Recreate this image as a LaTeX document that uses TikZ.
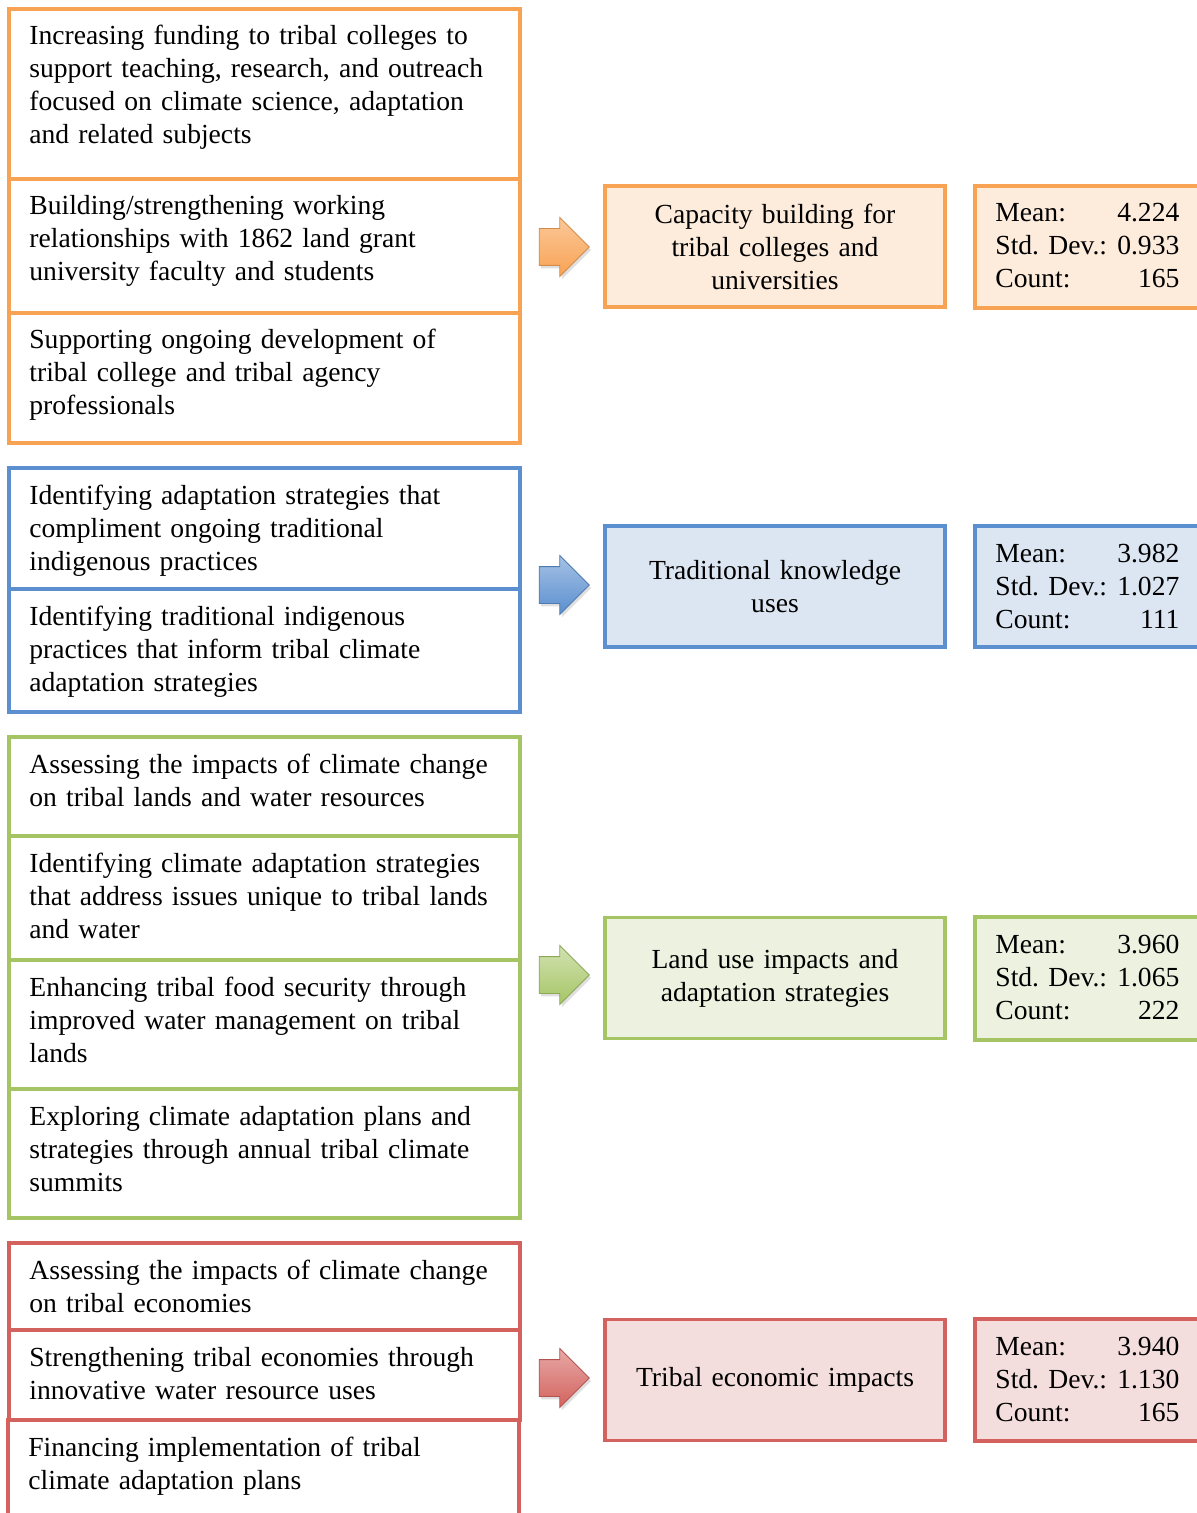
\documentclass[tikz,border=0pt]{standalone}
\usepackage{fontspec}
\setmainfont{Liberation Serif}
\usetikzlibrary{shapes.arrows}
\usetikzlibrary{shadows}
\definecolor{orline}{HTML}{F8A354}
\definecolor{orfill}{HTML}{FDEBDC}
\definecolor{blline}{HTML}{5B8FCF}
\definecolor{blfill}{HTML}{DCE6F2}
\definecolor{grline}{HTML}{A5C565}
\definecolor{grfill}{HTML}{EDF2E0}
\definecolor{rdline}{HTML}{D3625E}
\definecolor{rdfill}{HTML}{F4DEDD}
\newcommand{\txtfont}{\fontsize{13.8}{16.5}\selectfont}
\tikzset{frame/.style = {line width = 1.7pt}}
\tikzset{item/.style = {anchor = base west, inner sep = 0, text width = 250pt, align = left, font = \txtfont}}
\tikzset{topic/.style = {line width = 1.7pt, minimum width = 170pt, minimum height = 60.5pt, inner sep = 0, text width = 165pt, align = center, font = \txtfont}}
\tikzset{stats/.style = {anchor = base west, inner sep = 0, text width = 92pt, align = left, font = \txtfont}}
\tikzset{blockarrow/.style = {single arrow, inner xsep = 0, inner ysep = 9pt, minimum height = 25pt,
    single arrow head extend = 5.5pt, line width = 0.4pt,
    drop shadow = {opacity = 0.25, shadow xshift = 1pt, shadow yshift = -1.5pt}}}
\newcommand{\statline}[2]{\makebox[92pt]{#1\hfill #2}}

\begin{document}
\begin{tikzpicture}[x = 0.5pt, y = -0.5pt]
      \useasboundingbox (0, 0) rectangle (1196, 1513);
      % capacity building
      \draw [frame, orline] (9, 9) rectangle (520, 179);
      \draw [frame, orline] (9, 179) rectangle (520, 313);
      \draw [frame, orline] (9, 313) rectangle (520, 443);
      \node [item] (cap1) at (29, 45) {Increasing funding to tribal colleges to\\ support teaching, research, and outreach\\ focused on climate science, adaptation\\ and related subjects};
      \node [item] (cap2) at (29, 215) {Building/strengthening working\\ relationships with 1862 land grant\\ university faculty and students};
      \node [item] (cap3) at (29, 349) {Supporting ongoing development of\\ tribal college and tribal agency\\ professionals};
      \node [blockarrow, draw = orline!85!black, top color = orline!60!white, bottom color = orline] (caparrow) at (555, 247) {};
      \node [topic, draw = orline, fill = orfill] (capacity) at (775, 246.5) {Capacity building for\\ tribal colleges and\\ universities};
      \draw [frame, orline, fill = orfill] (975, 186) rectangle (1220, 308);
      \node [stats] (capstats) at (995, 222) {\statline{Mean:}{4.224}\\ \statline{Std.\ Dev.:}{0.933}\\ \statline{Count:}{165}};
      % traditional knowledge
      \draw [frame, blline] (9, 468) rectangle (520, 589);
      \draw [frame, blline] (9, 589) rectangle (520, 712);
      \node [item] (tk1) at (29, 504) {Identifying adaptation strategies that\\ compliment ongoing traditional\\ indigenous practices};
      \node [item] (tk2) at (29, 625) {Identifying traditional indigenous\\ practices that inform tribal climate\\ adaptation strategies};
      \node [blockarrow, draw = blline!85!black, top color = blline!55!white, bottom color = blline] (tkarrow) at (555, 585) {};
      \node [topic, draw = blline, fill = blfill] (knowledge) at (775, 586.5) {Traditional knowledge\\ uses};
      \draw [frame, blline, fill = blfill] (975, 526) rectangle (1220, 647);
      \node [stats] (tkstats) at (995, 562) {\statline{Mean:}{3.982}\\ \statline{Std.\ Dev.:}{1.027}\\ \statline{Count:}{111}};
      % land use
      \draw [frame, grline] (9, 737) rectangle (520, 836);
      \draw [frame, grline] (9, 836) rectangle (520, 960);
      \draw [frame, grline] (9, 960) rectangle (520, 1089);
      \draw [frame, grline] (9, 1089) rectangle (520, 1218);
      \node [item] (land1) at (29, 773) {Assessing the impacts of climate change\\ on tribal lands and water resources};
      \node [item] (land2) at (29, 872) {Identifying climate adaptation strategies\\ that address issues unique to tribal lands\\ and water};
      \node [item] (land3) at (29, 996) {Enhancing tribal food security through\\ improved water management on tribal\\ lands};
      \node [item] (land4) at (29, 1125) {Exploring climate adaptation plans and\\ strategies through annual tribal climate\\ summits};
      \node [blockarrow, draw = grline!85!black, top color = grline!50!white, bottom color = grline] (landarrow) at (555, 975) {};
      \node [topic, draw = grline, fill = grfill] (landuse) at (775, 978) {Land use impacts and\\ adaptation strategies};
      \draw [frame, grline, fill = grfill] (975, 917) rectangle (1220, 1040);
      \node [stats] (landstats) at (995, 953) {\statline{Mean:}{3.960}\\ \statline{Std.\ Dev.:}{1.065}\\ \statline{Count:}{222}};
      % economic impacts
      \draw [frame, rdline] (9, 1243) rectangle (520, 1330);
      \draw [frame, rdline] (9, 1330) rectangle (520, 1420);
      \draw [frame, rdline] (8, 1420) rectangle (519, 1540);
      \node [item] (econ1) at (29, 1279) {Assessing the impacts of climate change\\ on tribal economies};
      \node [item] (econ2) at (29, 1366) {Strengthening tribal economies through\\ innovative water resource uses};
      \node [item] (econ3) at (28, 1456) {Financing implementation of tribal\\ climate adaptation plans};
      \node [blockarrow, draw = rdline!85!black, top color = rdline!55!white, bottom color = rdline] (econarrow) at (555, 1378) {};
      \node [topic, draw = rdline, fill = rdfill] (economic) at (775, 1380) {Tribal economic impacts};
      \draw [frame, rdline, fill = rdfill] (975, 1319) rectangle (1220, 1441);
      \node [stats] (econstats) at (995, 1355) {\statline{Mean:}{3.940}\\ \statline{Std.\ Dev.:}{1.130}\\ \statline{Count:}{165}};
    \end{tikzpicture}
\end{document}
